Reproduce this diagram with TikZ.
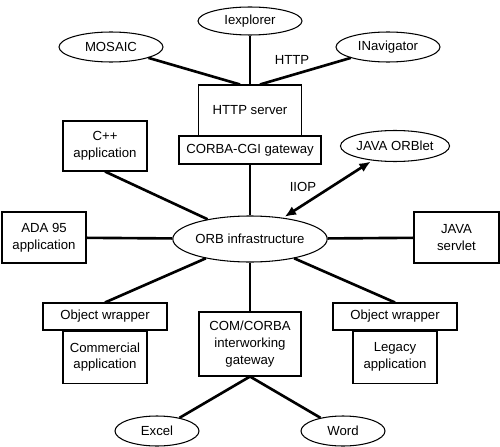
\documentclass[tikz,border=0pt]{standalone}
\usepackage{fontspec}
\setmainfont{Liberation Sans}
\usetikzlibrary{shapes.geometric,arrows.meta,calc}

\newlength\px
\setlength\px{0.02cm}

\tikzset{
  every node/.style={font=\fontsize{7.5}{9.5}\selectfont, align=center, inner sep=0pt},
  boxnode/.style={draw, line width=0.6pt, rectangle},
  ovalnode/.style={draw, line width=0.6pt, ellipse},
  link/.style={line width=1.5pt},
}

\begin{document}
\begin{tikzpicture}[x=\px, y=-\px]
  \useasboundingbox (0,0) rectangle (500,446);
   %%%%%%%%%%%%%%%%% browsers and web side %%%%%%%%%%%%%%%%%%%
\node[ovalnode, minimum width=104\px, minimum height=28\px] (iexp) at (250,21) {Iexplorer};
\node[ovalnode, minimum width=104\px, minimum height=30\px] (mosaic) at (111,47) {MOSAIC};
\node[ovalnode, minimum width=104\px, minimum height=30\px] (inav) at (388,47) {INavigator};
\node (http) at (292,60) {HTTP};
\node[boxnode, minimum width=103\px, minimum height=51\px] (srv) at (250,110.5) {HTTP server};
\node[boxnode, minimum width=142\px, minimum height=28\px] (cgi) at (250,150) {CORBA-CGI gateway};

   %%%%%%%%%%%%%%%%% around the ORB %%%%%%%%%%%%%%%%%%%
\node[ovalnode, minimum width=129\px, minimum height=46\px] (orb) at (250,239) {ORB infrastructure};
\node[boxnode, minimum width=84\px, minimum height=50\px] (cpp) at (105,146) {C++\\application};
\node[ovalnode, minimum width=104\px, minimum height=31\px] (orblet) at (395,146) {JAVA ORBlet};
\node (iiop) at (303,187) {IIOP};
\node[boxnode, minimum width=84\px, minimum height=51\px] (ada) at (44,237.5) {ADA 95\\application};
\node[boxnode, minimum width=85\px, minimum height=51\px] (servlet) at (456.5,237.5) {JAVA\\servlet};

   %%%%%%%%%%%%%%%%% wrapped and bridged applications %%%%%%%%%%%%%%%%%%%
% wrapper on top, application hanging below it
\foreach \side/\x/\app in {L/105/Commercial, R/395/Legacy} {%
  \node[boxnode, minimum width=124\px, minimum height=27\px] (wrap\side) at (\x,316.5) {Object wrapper};
  \node[boxnode, minimum width=84\px, minimum height=52\px, anchor=north] (app\side) at (wrap\side.south) {\app\\application};
}
\node[boxnode, minimum width=102\px, minimum height=64\px] (com) at (250,344) {COM/CORBA\\interworking\\gateway};
\node[ovalnode, minimum width=84\px, minimum height=30\px] (excel) at (157,431) {Excel};
\node[ovalnode, minimum width=84\px, minimum height=30\px] (word) at (343,431) {Word};

%%%%%%%%%%%%%%%%% edges %%%%%%%%%%%%%%%%%%%%%%%
\draw[link] (mosaic) -- ($(srv.north)+(-10,0)$);
\draw[link] (iexp) -- (srv);
\draw[link] (inav) -- ($(srv.north)+(10,0)$);
\draw[link, line width=1pt] (cgi) -- (orb);
\foreach \a/\b in {cpp.south/orb, ada/orb, servlet/orb, orb/wrapL.north, orb/com, orb/wrapR.north, com.south/excel, com.south/word}
  {\draw[link] (\a) -- (\b);}
\draw[link, {Latex[length=6.5pt,width=5.5pt]}-{Latex[length=6.5pt,width=5.5pt]}, shorten <=1pt, shorten >=1pt] (orb) -- (orblet);
\end{tikzpicture}
\end{document}
